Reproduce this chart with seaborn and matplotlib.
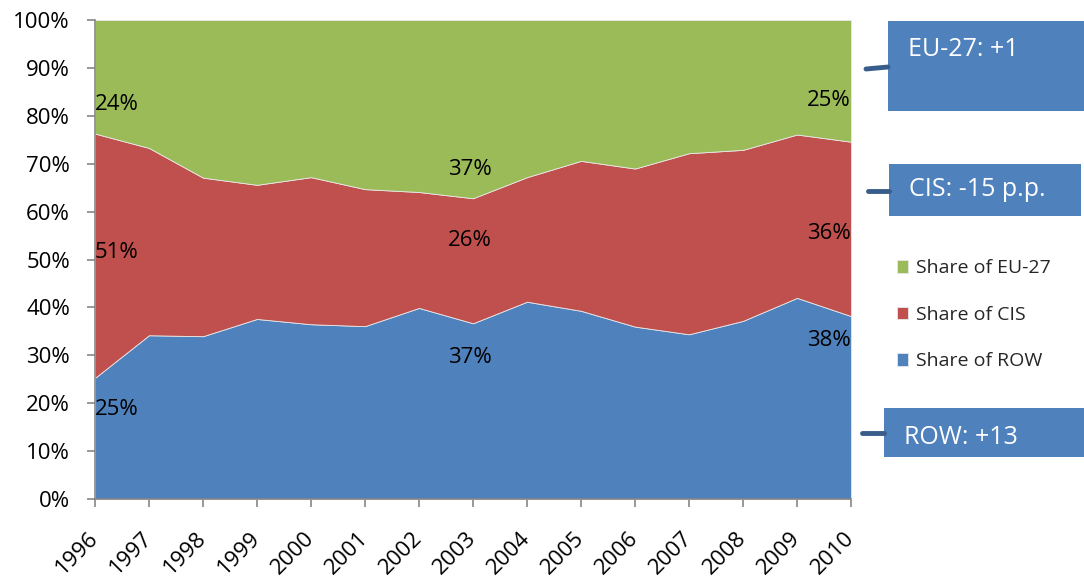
import numpy as np
import pandas as pd
import matplotlib.pyplot as plt
import matplotlib.transforms as mtransforms
from matplotlib.patches import Rectangle
import seaborn as sns

# data, shares in percent
years = list(range(1996, 2011))
share_row = [25.3, 34.2, 34.0, 37.6, 36.5, 36.1, 39.9, 36.7, 41.2, 39.3, 36.0, 34.4, 37.2, 42.0, 38.2]
share_cis = [51.0, 39.1, 33.1, 28.0, 30.7, 28.6, 24.2, 26.1, 26.0, 31.3, 33.0, 37.8, 35.7, 34.1, 36.4]
share_eu = [23.7, 26.7, 32.9, 34.4, 32.8, 35.3, 35.9, 37.2, 32.8, 29.4, 31.0, 27.8, 27.1, 23.9, 25.4]
series_names = ['Share of ROW', 'Share of CIS', 'Share of EU-27']
change_labels = ['EU-27: +1', 'CIS: -15 p.p.', 'ROW: +13']
label_years = [1996, 2003, 2010]

df = pd.DataFrame({'year': years, 'ROW': share_row, 'CIS': share_cis, 'EU': share_eu})

sns.set_style('white')
plt.rcParams['font.family'] = ['Open Sans', 'DejaVu Sans']
colors = ['#4F81BD', '#C0504D', '#9BBB59']

fig = plt.figure(figsize=(10.84, 5.81), dpi=100)
ax = fig.add_axes([0.0876, 0.141, 0.6975, 0.8245])
ax.stackplot(df['year'], df['ROW'], df['CIS'], df['EU'], colors=colors,
             labels=series_names, edgecolor='#e8e8e8', linewidth=0.6)

ax.set_xlim(1996, 2010)
ax.set_ylim(0, 100)
ax.set_yticks(np.arange(0, 101, 10))
ax.set_yticklabels([f'{v}%' for v in range(0, 101, 10)], fontsize=16, color='black')
ax.set_xticks(years)
ax.set_xticklabels([str(y) for y in years], fontsize=16, rotation=45, color='black',
                   ha='right', va='center', rotation_mode='anchor')
offset = mtransforms.ScaledTranslation(0.01, 0, fig.dpi_scale_trans)
for lab in ax.get_xticklabels():
    lab.set_transform(lab.get_transform() + offset)
ax.tick_params(axis='both', which='both', direction='out', length=6,
               color='#868686', width=1.2, left=True, bottom=True)
ax.tick_params(axis='y', pad=12)
ax.tick_params(axis='x', pad=20)
for s in ['top', 'right']:
    ax.spines[s].set_visible(False)
for s in ['left', 'bottom']:
    ax.spines[s].set_color('#868686')
    ax.spines[s].set_linewidth(1.2)

# data labels at three years
label_pos = {1996: (82.3, 51.4, 18.6), 2003: (68.7, 53.9, 29.6), 2010: (83.3, 55.5, 33.2)}
for yr in label_years:
    r = df.set_index('year').loc[yr]
    vals = [r['EU'], r['CIS'], r['ROW']]
    if yr == 1996:
        ha, xx = 'left', yr
    elif yr == 2010:
        ha, xx = 'right', yr
    else:
        ha, xx = 'center', yr - 0.05
    for v, yy in zip(vals, label_pos[yr]):
        ax.text(xx, yy, f'{v:.0f}%', ha=ha, va='center', fontsize=16, color='black')

# legend
handles, labels = ax.get_legend_handles_labels()
fig.legend(handles[::-1], labels[::-1], loc='upper left', bbox_to_anchor=(0.811, 0.584),
           frameon=False, fontsize=14, handlelength=0.6, handleheight=0.6,
           handletextpad=0.4, labelspacing=1.47)

# annotation boxes with connector lines
W, H = 1084, 581
boxes = [(888, 21, 196, 90, 50, 866, 69, 888, 67),
         (889, 164, 192, 52, 190, 868, 191, 889, 191),
         (884, 408, 200, 49, 437, 862, 433, 884, 433)]
for (bx, by, bw, bh, ty, x0, y0, x1, y1), txt in zip(boxes, change_labels):
    fig.patches.append(Rectangle((bx / W, 1 - (by + bh) / H), bw / W, bh / H,
                                 transform=fig.transFigure, facecolor='#4F81BD',
                                 edgecolor='none'))
    fig.lines.append(plt.Line2D([x0 / W, x1 / W], [1 - y0 / H, 1 - y1 / H],
                                transform=fig.transFigure, color='#385D8A', linewidth=3.5))
    fig.text((bx + 20) / W, 1 - ty / H, txt, color='white', fontsize=18, va='center', ha='left')

fig.savefig('out.png', dpi=100)
